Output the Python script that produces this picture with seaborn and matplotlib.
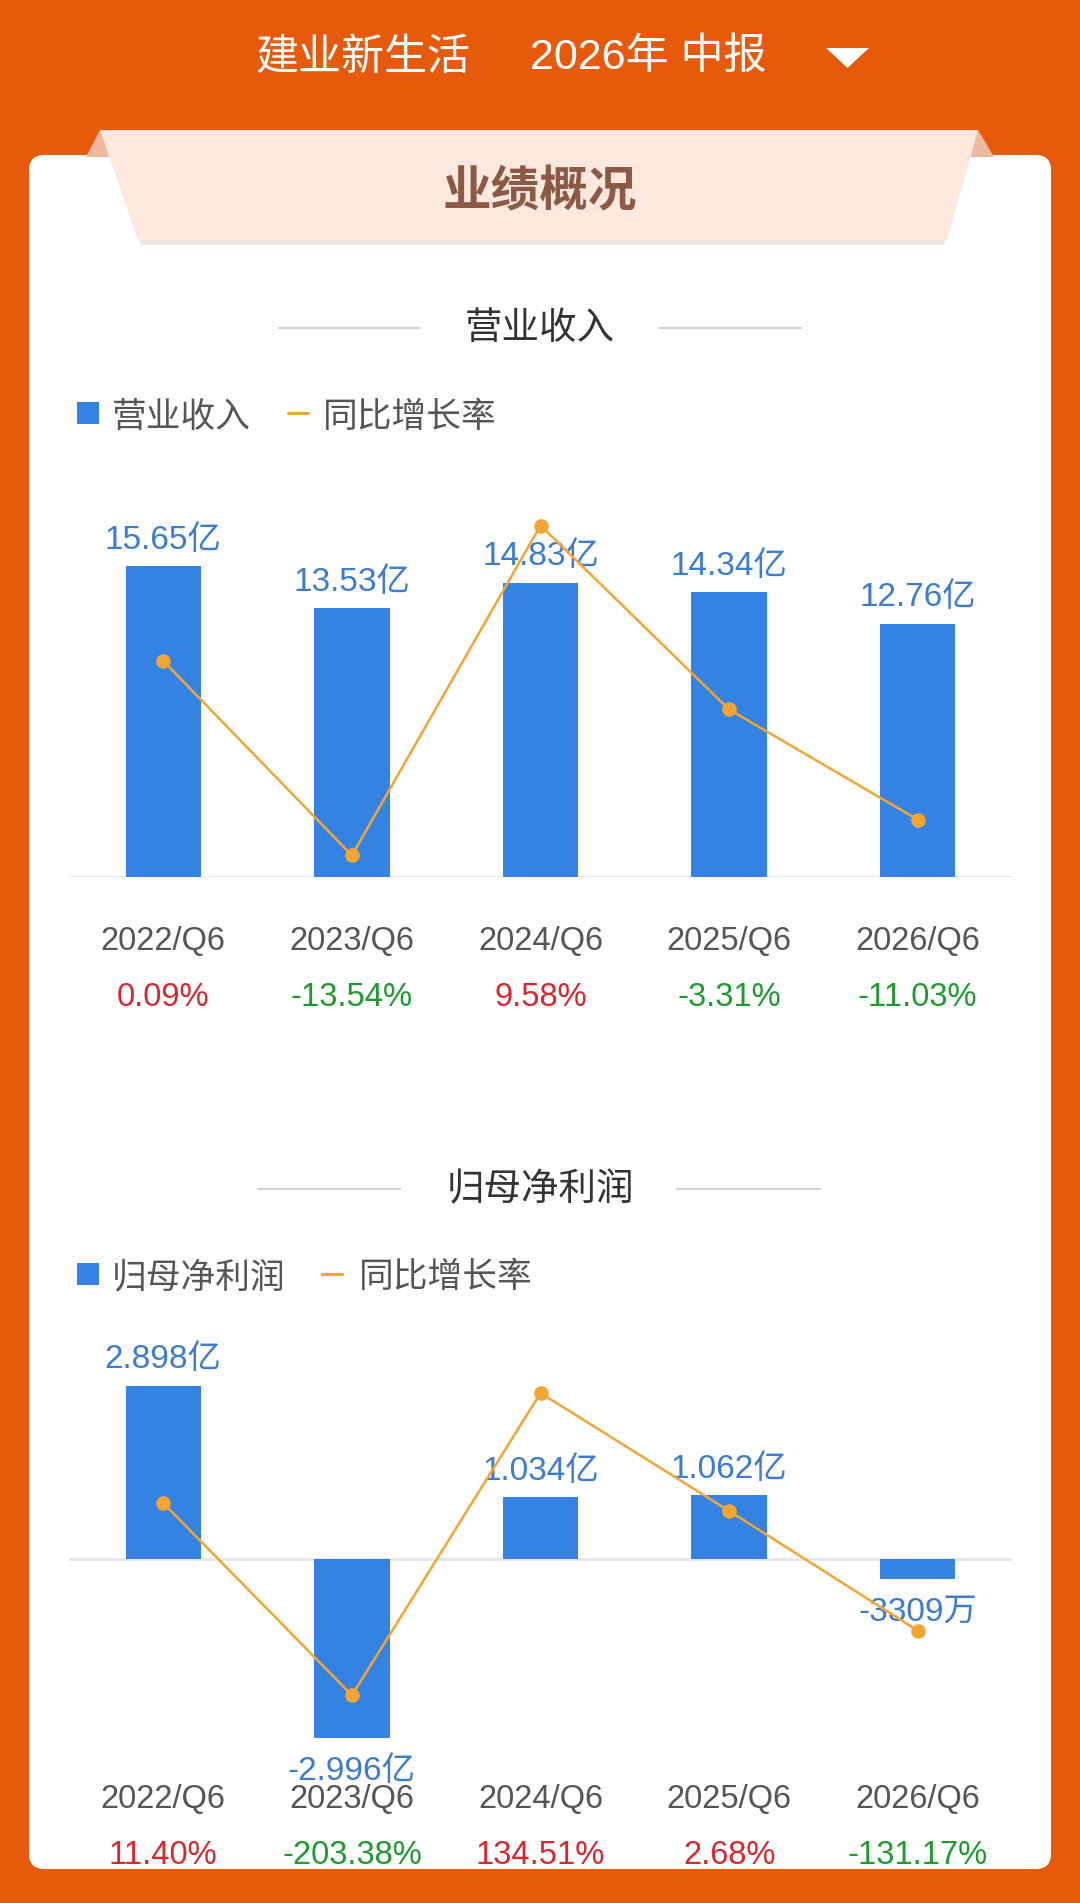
import numpy as np
import pandas as pd
import seaborn as sns
import matplotlib.pyplot as plt
from matplotlib.patches import FancyBboxPatch, Polygon, Rectangle
from matplotlib.lines import Line2D

# dados do gráfico
periodos = ["2022/Q6", "2023/Q6", "2024/Q6", "2025/Q6", "2026/Q6"]
receita = [15.65, 13.53, 14.83, 14.34, 12.76]            # 亿
receita_txt = ["15.65亿", "13.53亿", "14.83亿", "14.34亿", "12.76亿"]
receita_yoy = [0.09, -13.54, 9.58, -3.31, -11.03]        # %
lucro = [2.898, -2.996, 1.034, 1.062, -0.3309]          # 亿
lucro_txt = ["2.898亿", "-2.996亿", "1.034亿", "1.062亿", "-3309万"]
lucro_yoy = [11.40, -203.38, 134.51, 2.68, -131.17]      # %

W, H = 1080, 1903
LARANJA = "#E75A0B"
AZUL = "#3482E2"
AZUL_TXT = "#3B7BD0"
LINHA = "#F2A533"
VERMELHO = "#D9262F"
VERDE = "#1E9A2E"
CJK = ["Noto Sans CJK SC", "DejaVu Sans"]
NUM = ["Liberation Sans", "Noto Sans CJK SC"]

sns.set_theme(style="white")
plt.rcParams["font.family"] = CJK


def fy(y):
    # pixel (a partir do topo) -> fração da figura
    return 1 - y / H


def fx(x):
    return x / W


fig = plt.figure(figsize=(W / 100, H / 100), dpi=100)
fig.patch.set_facecolor(LARANJA)


def fundo(p):
    # formas de fundo ficam atrás dos eixos
    p.set_zorder(-5)
    fig.patches.append(p)


# cartão branco
fundo(FancyBboxPatch((fx(29), fy(1869)), fx(1051 - 29), (1869 - 155) / H,
                     boxstyle="round,pad=0,rounding_size=0.014",
                     transform=fig.transFigure, facecolor="white", edgecolor="none",
                     mutation_aspect=W / H))

# cabeçalho
fig.text(fx(255), fy(58), "建业新生活", color="white", fontsize=31, ha="left", va="center")
fig.text(fx(530), fy(58), "2026年 中报", color="white", fontsize=31, ha="left", va="center",
         family=NUM)
fundo(Polygon([(fx(826), fy(48)), (fx(869), fy(48)), (fx(847.5), fy(68))],
              closed=True, transform=fig.transFigure, facecolor="white", edgecolor="none"))

# faixa "业绩概况"
fundo(Polygon([(fx(104), fy(134)), (fx(976), fy(134)), (fx(944), fy(245)), (fx(141), fy(245))],
              closed=True, transform=fig.transFigure, facecolor="#EFE6E1", edgecolor="none"))
fundo(Polygon([(fx(86), fy(157)), (fx(100), fy(130)), (fx(110), fy(157))], closed=True,
              transform=fig.transFigure, facecolor="#EDB9A0", edgecolor="none"))
fundo(Polygon([(fx(994), fy(157)), (fx(978), fy(130)), (fx(968), fy(157))], closed=True,
              transform=fig.transFigure, facecolor="#EDB9A0", edgecolor="none"))
fundo(Polygon([(fx(100), fy(130)), (fx(978), fy(130)), (fx(947), fy(240)), (fx(138), fy(240))],
              closed=True, transform=fig.transFigure, facecolor="#FDE8DE", edgecolor="none"))
fig.text(0.5, fy(192), "业绩概况", color="#8A5A46", fontsize=35, fontweight="bold",
         ha="center", va="center")


def titulo_secao(y, texto, x1, x2, x3, x4):
    fig.text(0.5, fy(y + 4), texto, color="#333333", fontsize=27, ha="center", va="center")
    for a, b in [(x1, x2), (x3, x4)]:
        fig.add_artist(Line2D([fx(a), fx(b)], [fy(y + 3), fy(y + 3)], color="#D2D2D2",
                              lw=1.6, transform=fig.transFigure))


def legenda(y, nome, dash_x, txt2_x):
    fundo(Rectangle((fx(77), fy(y + 11)), fx(22), 22 / H, transform=fig.transFigure,
                    facecolor=AZUL, edgecolor="none"))
    fig.text(fx(112), fy(y + 4), nome, color="#555555", fontsize=25, ha="left", va="center")
    fig.add_artist(Line2D([fx(dash_x), fx(dash_x + 20)], [fy(y), fy(y)], color=LINHA, lw=2.2,
                          transform=fig.transFigure))
    fig.text(fx(txt2_x), fy(y + 4), "同比增长率", color="#555555", fontsize=25, ha="left",
             va="center")


def grafico(top, bottom, vals, txts, yoy, ylim_bar, ylim_line, y_cat, y_pct):
    ax = fig.add_axes([fx(69), fy(bottom), fx(1012 - 69), (bottom - top) / H])
    df = pd.DataFrame({"periodo": periodos, "valor": vals})
    sns.barplot(data=df, x="periodo", y="valor", color=AZUL, width=0.4, ax=ax,
                saturation=1, edgecolor="none")
    ax.set_xlim(-0.5, 4.5)
    ax.set_ylim(*ylim_bar)
    ax.axhline(0, color="#E6E6E6", lw=2, zorder=0.5)
    ax.set_facecolor("none")
    for s in ax.spines.values():
        s.set_visible(False)
    ax.set_xticks([])
    ax.set_yticks([])
    ax.set_xlabel("")
    ax.set_ylabel("")
    for i, (v, t) in enumerate(zip(vals, txts)):
        off = 18.5 if v >= 0 else -24
        ax.annotate(t, (i, v), xytext=(0, off), textcoords="offset points", ha="center",
                    va="center", color=AZUL_TXT, fontsize=24, family=NUM)
    ax2 = ax.twinx()
    sns.lineplot(x=np.arange(len(yoy)), y=yoy, ax=ax2, color=LINHA, lw=1.8, marker="o",
                 markersize=10.5, markeredgewidth=0, markerfacecolor=LINHA)
    ax2.set_ylim(*ylim_line)
    ax2.set_xlim(-0.5, 4.5)
    for s in ax2.spines.values():
        s.set_visible(False)
    ax2.set_yticks([])
    ax2.set_ylabel("")
    for i, (p, g) in enumerate(zip(periodos, yoy)):
        xf = fx(69) + (i + 0.5) / 5 * fx(1012 - 69)
        fig.text(xf, fy(y_cat), p, color="#555555", fontsize=23.5, ha="center", va="center",
                 family=NUM)
        fig.text(xf, fy(y_pct), f"{g:.2f}%", color=VERMELHO if g >= 0 else VERDE, fontsize=23.5,
                 ha="center", va="center", family=NUM)


# 营业收入
titulo_secao(325, "营业收入", 279, 419, 659, 801)
legenda(413, "营业收入", 288, 323)
grafico(470, 877, receita, receita_txt, receita_yoy, (0, 20.5), (-15.05, 13.47), 941, 997)

# 归母净利润
titulo_secao(1186, "归母净利润", 258, 400, 677, 820)
legenda(1274, "归母净利润", 322, 359)
grafico(1340, 1745, lucro, lucro_txt, lucro_yoy, (-3.110, 3.662), (-259.0, 193.76), 1800, 1856)

fig.savefig("out.png", dpi=100, facecolor=fig.get_facecolor())
